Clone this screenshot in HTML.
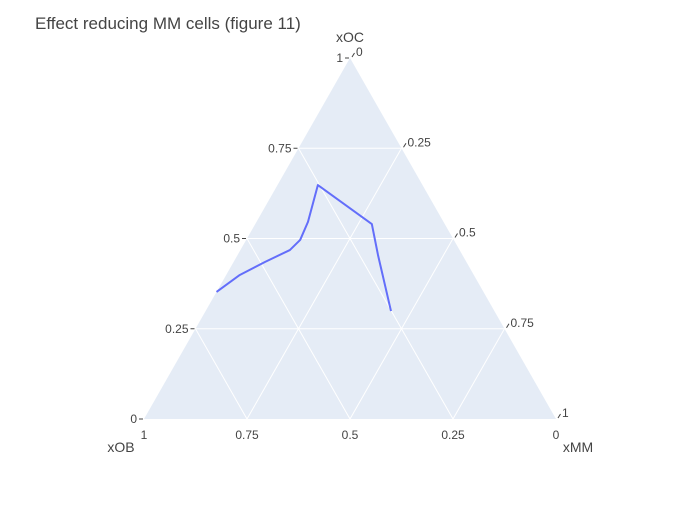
<!DOCTYPE html>
<html><head><meta charset="utf-8"><style>
body{margin:0;background:#fff;}
svg{font-family:"Liberation Sans",sans-serif;}
</style></head><body>
<svg id="chart" width="700" height="500">
<rect width="700" height="500" fill="#fff"/>
<text x="35" y="29" font-size="17" fill="#444">Effect reducing MM cells (figure 11)</text>
<g id="g"></g>
</svg>
<script>
const seriesOC = [0.352,0.399,0.435,0.468,0.496,0.546,0.648,0.540,0.454,0.299];
const seriesMM = [0.000,0.033,0.076,0.120,0.131,0.125,0.098,0.283,0.341,0.450];
const tickVals = [0,0.25,0.5,0.75,1];
const tickLabels = ["0","0.25","0.5","0.75","1"];

const T=[350,58], L=[144,419], R=[556,419];
const NS="http://www.w3.org/2000/svg";
const g=document.getElementById('g');
function pt(a,c){const b=1-a-c;return [a*T[0]+b*L[0]+c*R[0], a*T[1]+b*L[1]+c*R[1]];}
function mk(tag,attrs,txt){const e=document.createElementNS(NS,tag);for(const k in attrs)e.setAttribute(k,attrs[k]);if(txt!==undefined)e.textContent=txt;g.appendChild(e);return e;}

const tri=mk('polygon',{points:[T,L,R].map(p=>p.join(',')).join(' '),fill:'#e5ecf6'});



[0.25,0.5,0.75].forEach(v=>{
  // a constant
  let p1=pt(v,0),p2=pt(v,1-v);
  let l=mk('line',{x1:p1[0],y1:p1[1],x2:p2[0],y2:p2[1],stroke:'#fff','stroke-width':1});
  
  
  // c constant
  p1=pt(0,v);p2=pt(1-v,v);
  l=mk('line',{x1:p1[0],y1:p1[1],x2:p2[0],y2:p2[1],stroke:'#fff','stroke-width':1});
  
  
  // b constant
  p1=pt(1-v,0);p2=pt(0,1-v);
  l=mk('line',{x1:p1[0],y1:p1[1],x2:p2[0],y2:p2[1],stroke:'#fff','stroke-width':1});
  
  
});

tickVals.forEach((v,i)=>{
  // a axis on left edge (b+a=1,c=0)
  let p=pt(v,0);
  let t=mk('line',{x1:p[0]-5,y1:p[1],x2:p[0]-1,y2:p[1],stroke:'#444'});
  
  
  let tx=mk('text',{x:p[0]-7,y:p[1]+4,'font-size':12,fill:'#444','text-anchor':'end'},tickLabels[i]);
  
  
  // b axis on bottom (a=0)
  p=pt(0,1-v);
  tx=mk('text',{x:p[0],y:p[1]+20,'font-size':12,fill:'#444','text-anchor':'middle'},tickLabels[i]);
  
  
  // c axis on right edge (b=0)
  p=pt(1-v,v);
  t=mk('line',{x1:p[0]+2,y1:p[1]-1,x2:p[0]+4.5,y2:p[1]-5,stroke:'#444'});
  
  
  tx=mk('text',{x:p[0]+6,y:p[1]-2,'font-size':12,fill:'#444'},tickLabels[i]);
  
  
});

let at=mk('text',{x:350,y:42,'font-size':14,fill:'#444','text-anchor':'middle'},'xOC');


at=mk('text',{x:121,y:452,'font-size':14,fill:'#444','text-anchor':'middle'},'xOB');


at=mk('text',{x:578,y:452,'font-size':14,fill:'#444','text-anchor':'middle'},'xMM');



const pts=seriesOC.map((a,i)=>pt(a,seriesMM[i]).join(',')).join(' ');
const line=mk('polyline',{points:pts,fill:'none',stroke:'#636efa','stroke-width':2,'stroke-linejoin':'round'});


</script>
</body></html>
